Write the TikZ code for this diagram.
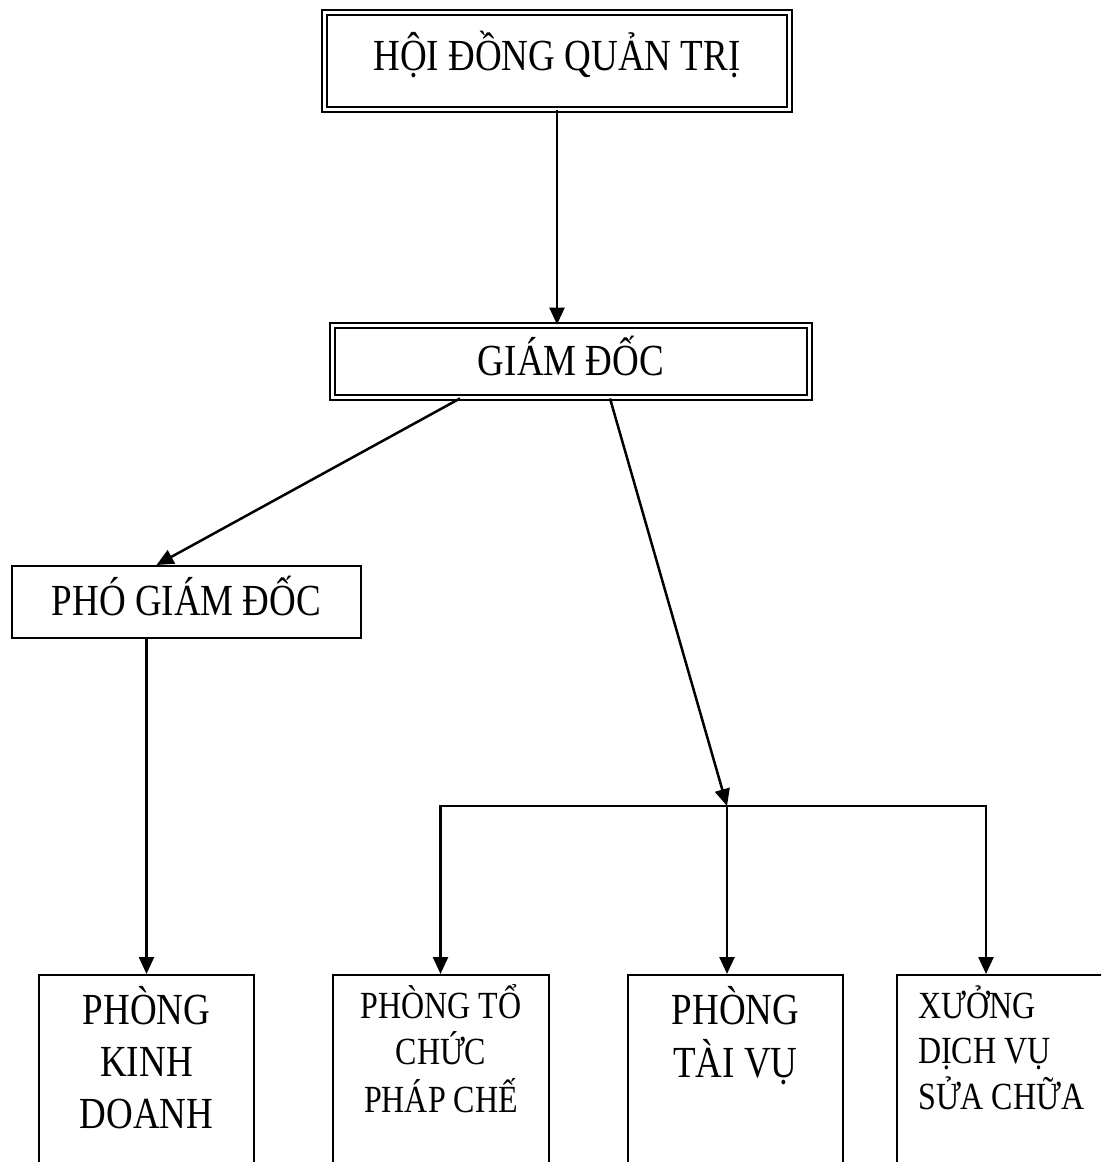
\documentclass[tikz,border=0pt]{standalone}
\usepackage{fontspec}
\setmainfont{Liberation Serif}
\usetikzlibrary{arrows.meta}

% lettering is set tall: every label is stretched vertically
\newcommand\tall[1]{\scalebox{1}[1.2]{#1}}
% centred / left-aligned stacks of lines, baseline on the first line
\newcommand\txtc[1]{\tall{\begin{tabular}[t]{@{}c@{}}#1\end{tabular}}}
\newcommand\txtl[1]{\tall{\begin{tabular}[t]{@{}l@{}}#1\end{tabular}}}

\tikzset{
  unit/.style={draw, line width=2pt, inner sep=0pt, rectangle},
  dbl/.style={draw, line width=1.9pt, double=white, double distance=3.2pt, inner sep=0pt, rectangle},
  dept/.style={unit, minimum width=215pt, minimum height=260pt},
  big/.style={font=\fontsize{37}{43.5}\selectfont, inner sep=0pt, anchor=base},
  small/.style={font=\fontsize{32}{37.5}\selectfont, inner sep=0pt, anchor=base},
  link/.style={line width=2.5pt},
  arr/.style={link, -{Triangle[length=17pt,width=15pt]}},
}

\begin{document}
\begin{tikzpicture}[x=1pt,y=-1pt]
\useasboundingbox (0,0) rectangle (1101,1162);
\clip (0,0) rectangle (1101,1162);

% management boxes
\node[dbl, minimum width=465pt, minimum height=97pt] (hd) at (557,61) {};
\node[big] (hdt) at (557,70) {\tall{HỘI ĐỒNG QUẢN TRỊ}};

\node[dbl, minimum width=477pt, minimum height=72pt] (gd) at (571,361.5) {};
\node[big] (gdt) at (571,375) {\tall{GIÁM ĐỐC}};

\node[unit, minimum width=349pt, minimum height=72pt] (pgd) at (186.5,602) {};
\node[big] (pgdt) at (186.5,615) {\tall{PHÓ GIÁM ĐỐC}};

% departments (running off the lower edge)
\node[dept] (pkd) at (146.5,1105) {};
\node[big] (pkdt) at (146.5,1024) {\txtc{PHÒNG\\KINH\\DOANH}};

\node[dept, minimum width=216pt] (ptc) at (441,1105) {};
\node[small] (ptct) at (441,1018) {\txtc{PHÒNG TỔ\\CHỨC\\PHÁP CHẾ}};

\node[dept] (ptv) at (735.5,1105) {};
\node[big] (ptvt) at (735.5,1024) {\txtc{PHÒNG\\TÀI VỤ}};

\node[dept] (xu) at (1004,1105) {};
\node[small, anchor=base west] (xut) at (918,1018) {\txtl{XƯỞNG\\DỊCH VỤ\\SỬA CHỮA}};

% branch points of the distribution bar
\coordinate (jl) at (440.5,806);
\coordinate (jc) at (727,806);
\coordinate (jr) at (986,806);

% connectors
\draw[arr] (hd.south) -- (hd.south |- gd.north);
\draw[arr] ([xshift=-111pt]gd.south) -- ([xshift=-30pt]pgd.north);
\draw[arr] ([xshift=39pt]gd.south) -- (jc);
\draw[arr] (pkd.north |- pgd.south) -- (pkd.north);
\draw[link, line cap=rect] (jl) -- (jr);
\draw[arr] (jl) -- (jl |- ptc.north);
\draw[arr] (jc) -- (jc |- ptv.north);
\draw[arr] (jr) -- (jr |- xu.north);
\end{tikzpicture}
\end{document}
